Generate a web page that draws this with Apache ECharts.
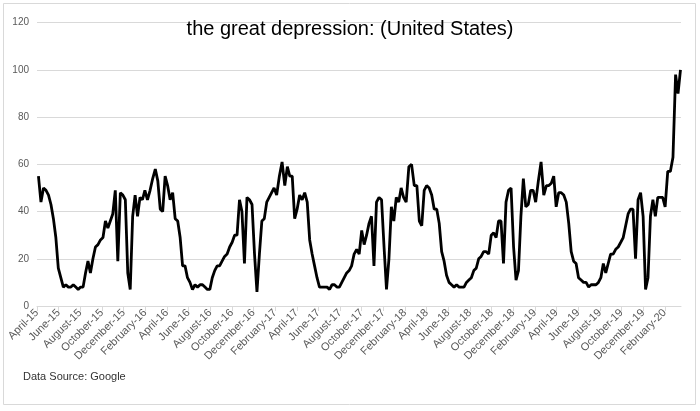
<!DOCTYPE html>
<html>
<head>
<meta charset="utf-8">
<script src="https://cdn.jsdelivr.net/npm/echarts@6/dist/echarts.min.js"></script>
<style>html,body{margin:0;padding:0;background:#fff;}#c{width:700px;height:411px;}</style>
</head>
<body>
<div id="c"></div>
<script>
// Weekly Google Trends values, first week starting 2015-04-05
var startDate = '2015-04-05';
var weeklyValues = [
 55,44,50,49,47,43,37,29,16,12,8,9,8,8,9,8,7,8,8,14,19,14,20,25,26,28,29,36,33,36,39,49,19,48,47,45,14,7,38,47,38,46,45,49,45,49,54,58,53,41,40,55,
 51,45,48,37,36,29,17,17,12,10,7,9,8,9,9,8,7,7,12,15,17,17,19,21,22,25,27,30,30,45,40,18,46,45,43,22,6,22,36,37,44,46,48,50,47,55,61,51,59,55,55,37,
 41,47,45,48,44,28,22,17,12,8,8,8,8,7,9,9,8,8,10,12,14,15,17,22,24,22,32,26,30,35,38,17,44,46,45,25,7,20,42,36,46,44,50,46,44,59,60,51,51,36,34,49,
 51,50,47,41,41,35,23,19,13,10,9,8,9,8,8,8,10,11,12,15,16,20,21,23,23,22,30,31,29,36,36,18,44,49,50,25,11,15,38,54,42,43,49,49,44,53,61,47,51,51,
 52,55,42,48,48,47,44,35,23,19,18,12,11,10,10,8,9,9,9,10,12,18,14,18,22,22,24,25,27,29,34,39,41,41,20,45,48,38,7,12,38,45,38,46,46,46,42,57,57,63,98,90,100
];
var monthNames = ['January','February','March','April','May','June','July','August','September','October','November','December'];
var titleText = 'the great depression: (United States)';
var sourceText = 'Data Source: Google';

// x position = months elapsed since 1 April 2015 (date axis like the original)
function monthOffset(d) {
  var y = d.getUTCFullYear(), m = d.getUTCMonth();
  var dim = new Date(Date.UTC(y, m + 1, 0)).getUTCDate();
  return (y - 2015) * 12 + (m - 3) + (d.getUTCDate() - 1) / dim;
}
var t0 = Date.parse(startDate + 'T00:00:00Z');
var seriesData = weeklyValues.map(function (v, i) {
  return [monthOffset(new Date(t0 + i * 7 * 86400000)), v];
});

var chart = echarts.init(document.getElementById('c'), null, {renderer: 'canvas'});
chart.setOption({
  animation: false,
  backgroundColor: '#fff',
  title: {
    text: titleText, left: 'center', top: 14,
    textStyle: {fontFamily: 'Liberation Sans', fontSize: 20, fontWeight: 'normal', color: '#000'}
  },
  grid: {left: 37, right: 19, top: 22.7, bottom: 105},
  xAxis: {
    type: 'value', min: 0, max: 59.5, interval: 2,
    splitLine: {show: false},
    axisLine: {lineStyle: {color: '#d9d9d9'}},
    axisTick: {show: true, length: 5, lineStyle: {color: '#d9d9d9'}},
    axisLabel: {
      rotate: 45, fontSize: 11, color: '#595959', fontFamily: 'Liberation Sans', margin: 5,
      showMaxLabel: false,
      formatter: function (v) {
        if (Math.abs(v - Math.round(v)) > 1e-6) return '';
        var k = Math.round(v) + 3;
        return monthNames[k % 12] + '-' + String(15 + Math.floor(k / 12));
      }
    }
  },
  yAxis: {
    type: 'value', min: 0, max: 120, interval: 20,
    axisLine: {show: false}, axisTick: {show: false},
    splitLine: {lineStyle: {color: '#d9d9d9', width: 1}},
    axisLabel: {fontSize: 10, color: '#595959', fontFamily: 'Liberation Sans', margin: 8}
  },
  graphic: [
    {type: 'rect', shape: {x: 3.5, y: 3.5, width: 692, height: 401}, style: {fill: 'none', stroke: '#d9d9d9', lineWidth: 1}, silent: true, z: -1},
    {type: 'text', left: 23, top: 371, style: {text: sourceText, font: '11px "Liberation Sans"', fill: '#333'}}
  ],
  series: [{
    type: 'line', data: seriesData, showSymbol: false,
    lineStyle: {color: '#000', width: 2.8}, itemStyle: {color: '#000'}
  }]
});
</script>
</body>
</html>
